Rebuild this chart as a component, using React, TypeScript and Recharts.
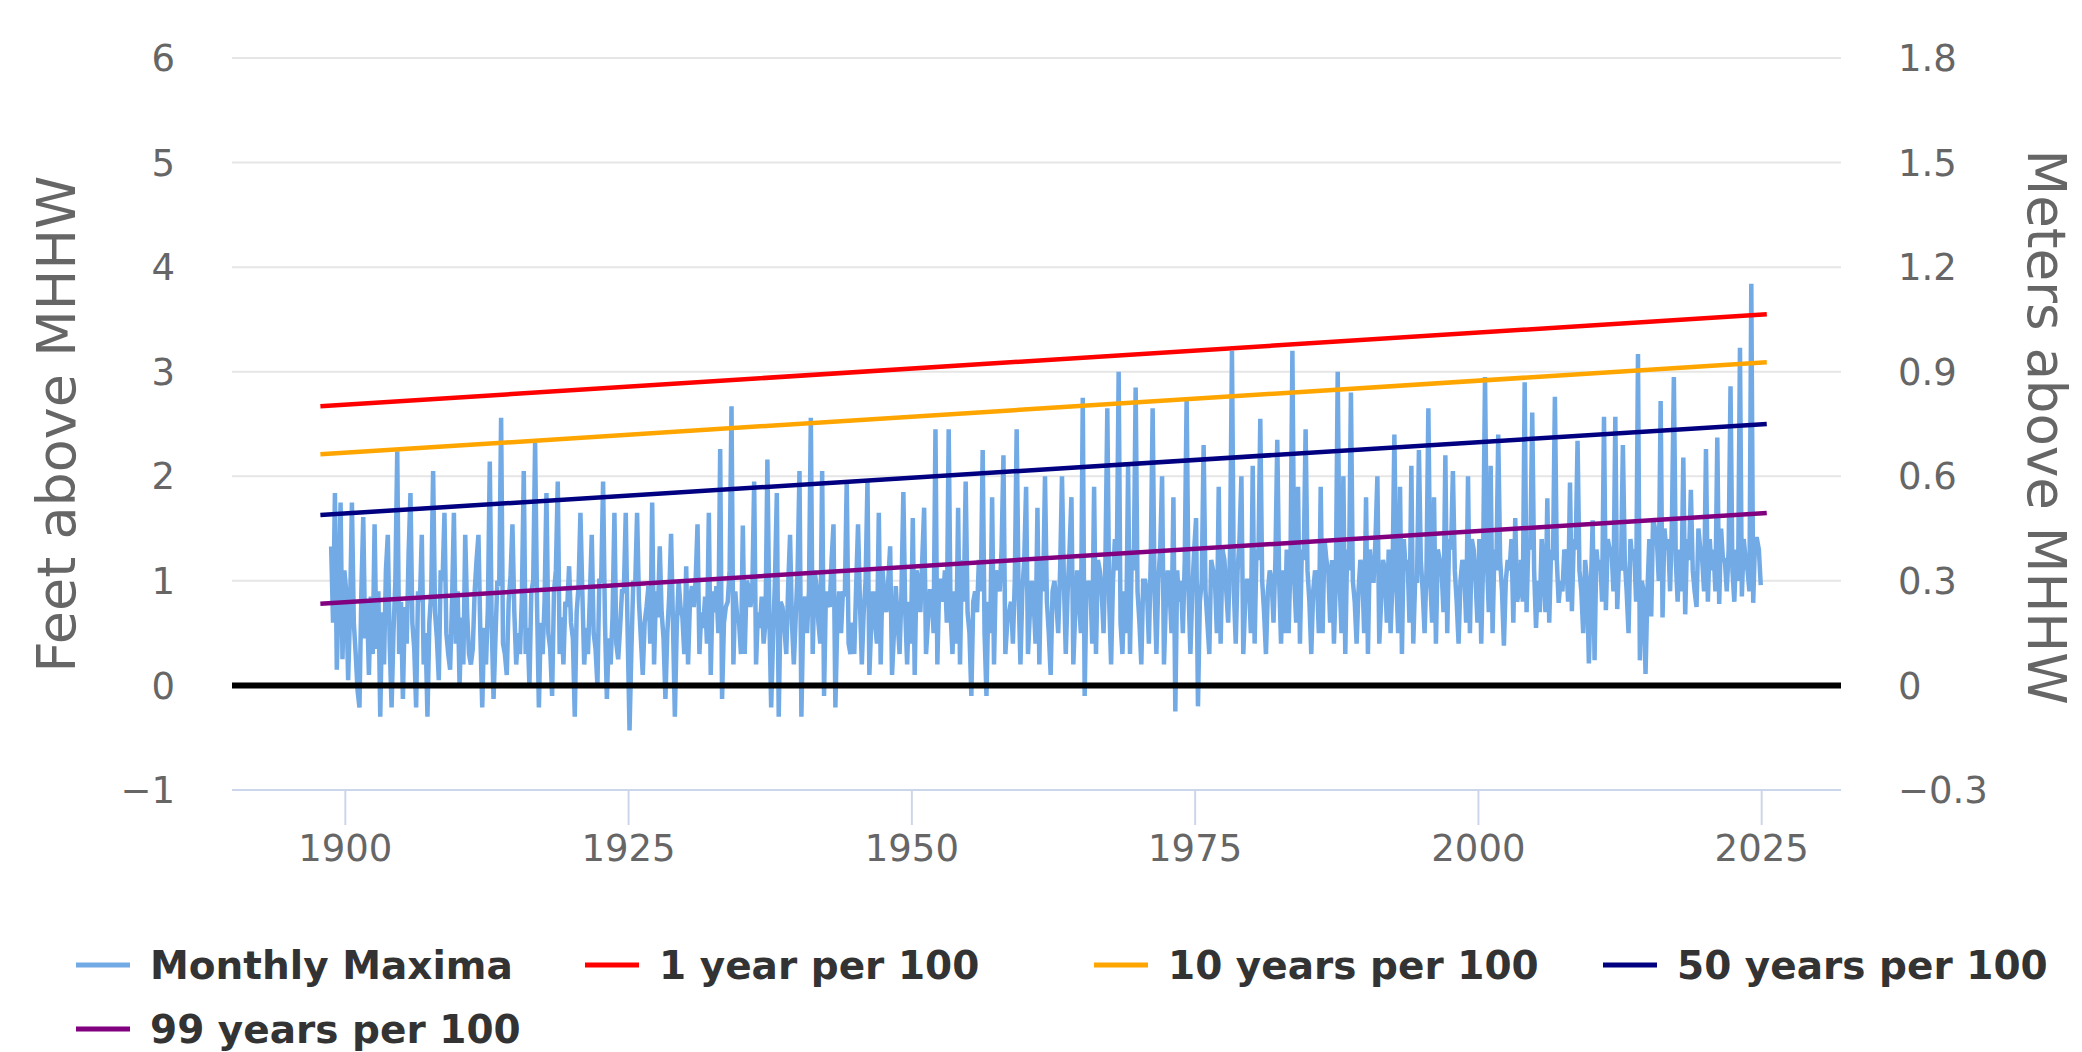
import { LineChart, Line, XAxis, YAxis, CartesianGrid } from 'recharts'

const yearTicks = [1900, 1925, 1950, 1975, 2000, 2025]
const feetTicks = [-1, 0, 1, 2, 3, 4, 5, 6]
const meterTicks = [-0.3, 0, 0.3, 0.6, 0.9, 1.2, 1.5, 1.8]

// Monthly maxima in feet above MHHW: six readings per year
// (one row per year), first reading at 1898.75
const maximaStart = 1898.75
const readingsPerYear = 6
const maxima1899to1924 = [
  [1.33, 0.6, 1.84, 0.15, 0.9, 1.75], [0.25, 1.1, 0.9, 0.05, 0.7, 1.75], [0.6, 0.3, -0.05, -0.21, 0.9, 1.61],
  [0.45, 0.8, 0.1, 0.85, 0.3, 1.54], [0.35, 0.9, -0.3, 0.7, 0.2, 1.1], [1.44, 0.4, -0.21, 0.5, 1.0, 2.24],
  [0.3, 0.8, -0.13, 0.75, 0.4, 1.25], [1.84, 0.6, 0.35, -0.21, 0.9, 0.8], [1.44, 0.2, 0.5, -0.3, 0.6, 0.9],
  [2.05, 0.7, 0.45, 0.05, 1.1, 1.0], [1.65, 0.5, 0.3, 0.15, 0.8, 1.65], [0.4, 0.9, 0.0, 0.65, 0.2, 1.44],
  [0.7, 0.3, 0.2, 0.35, 0.9, 1.2], [1.44, 0.5, -0.21, 0.55, 0.2, 0.75], [2.14, 0.6, -0.13, 0.45, 1.0, 0.95],
  [2.56, 0.4, 0.3, 0.1, 0.8, 1.05], [1.54, 0.7, 0.2, 0.5, 0.3, 0.85], [2.05, 0.3, 0.55, 0.0, 0.9, 1.0],
  [2.32, 0.8, -0.21, 0.6, 0.3, 0.8], [1.84, 0.5, 0.35, -0.1, 0.9, 1.1], [1.95, 0.3, 0.65, 0.2, 0.8, 0.75],
  [1.14, 0.6, 0.45, -0.3, 0.7, 0.95], [1.65, 0.9, 0.2, 0.55, 0.3, 0.85], [1.44, 0.5, 0.35, 0.0, 1.0, 1.0],
  [1.95, 0.6, -0.13, 0.45, 0.2, 0.65], [1.65, 0.4, 0.25, 0.55, 0.9, 0.9],
]
const maxima1925to1949 = [
  [1.65, 0.5, -0.43, 0.35, 1.0, 0.95], [1.65, 0.8, 0.45, 0.1, 0.6, 0.75], [0.95, 0.4, 1.75, 0.2, 0.9, 0.65],
  [1.33, 0.7, 0.45, -0.13, 0.5, 0.85], [1.45, 0.6, -0.3, 0.55, 1.0, 0.75], [0.65, 0.3, 1.14, 0.2, 0.8, 0.95],
  [0.75, 1.0, 1.54, 0.3, 0.7, 0.55], [0.85, 0.4, 1.65, 0.1, 0.9, 0.7], [0.95, 0.5, 2.26, -0.13, 0.6, 0.75],
  [0.8, 1.1, 2.67, 0.2, 0.9, 0.65], [0.6, 0.3, 1.53, 0.3, 1.0, 0.95], [0.75, 0.9, 1.95, 0.2, 0.7, 0.55],
  [0.85, 0.4, 0.6, 2.16, 0.7, -0.21], [0.45, 1.0, 1.84, -0.3, 0.8, 0.75], [0.55, 0.3, 0.95, 1.44, 0.6, 0.2],
  [0.65, 1.1, 2.05, -0.3, 0.7, 0.85], [0.5, 0.9, 2.56, 0.3, 1.1, 0.95], [0.6, 0.4, 2.05, -0.1, 0.9, 0.8],
  [0.75, 1.2, 1.54, -0.21, 0.6, 0.9], [0.5, 0.9, 0.85, 1.95, 0.4, 0.3], [0.6, 0.3, 0.95, 1.54, 0.8, 0.2],
  [0.7, 1.0, 1.95, 0.1, 0.6, 0.9], [0.6, 0.4, 1.65, 0.2, 1.1, 0.85], [0.7, 1.0, 1.33, 0.1, 0.5, 0.95],
  [0.6, 0.3, 0.9, 1.85, 0.7, 0.2],
]
const maxima1950to1974 = [
  [0.8, 0.4, 1.6, 0.1, 1.1, 1.0], [0.7, 1.2, 1.7, 0.3, 0.6, 0.9], [0.9, 0.5, 2.45, 0.2, 1.0, 1.0],
  [0.8, 1.1, 0.6, 2.45, 0.7, 0.3], [0.9, 0.4, 1.7, 0.2, 1.2, 0.8], [1.95, 0.7, 0.5, -0.1, 0.8, 0.9],
  [0.7, 1.2, 0.9, 2.25, 0.5, -0.1], [0.8, 0.5, 1.8, 0.2, 1.1, 1.0], [0.9, 1.3, 2.2, 0.3, 0.6, 0.7],
  [0.8, 0.4, 1.0, 2.45, 0.9, 0.2], [0.9, 1.2, 1.9, 0.3, 0.7, 1.0], [0.8, 0.4, 1.7, 0.2, 1.2, 0.9],
  [2.0, 0.8, 0.5, 0.1, 0.9, 1.0], [0.8, 0.5, 1.1, 2.0, 1.0, 0.3], [0.9, 1.3, 1.8, 0.2, 0.7, 1.1],
  [0.8, 0.5, 2.75, -0.1, 1.0, 0.9], [1.0, 0.4, 1.9, 0.3, 1.2, 1.1], [0.9, 0.5, 1.2, 2.65, 0.8, 0.2],
  [1.0, 1.4, 1.1, 3.0, 0.6, 0.3], [0.9, 0.5, 2.1, 0.3, 1.3, 1.1], [2.85, 0.9, 0.6, 0.2, 1.0, 1.0],
  [0.9, 0.4, 1.2, 2.65, 0.9, 0.3], [1.0, 1.3, 2.0, 0.2, 0.8, 1.1], [0.9, 0.5, 1.8, -0.25, 1.1, 0.8],
  [1.0, 0.5, 1.2, 2.75, 0.9, 0.3],
]
const maxima1975to1999 = [
  [0.9, 1.3, 1.6, -0.2, 0.8, 1.0], [2.3, 0.9, 0.6, 0.3, 1.2, 1.1], [1.0, 0.5, 1.9, 0.4, 1.3, 1.2],
  [0.9, 0.6, 1.3, 3.2, 0.9, 0.4], [1.1, 1.4, 2.0, 0.3, 0.8, 1.0], [1.0, 0.5, 2.1, 0.4, 1.3, 1.2],
  [2.55, 1.0, 0.7, 0.3, 0.9, 1.1], [1.0, 0.6, 1.2, 2.35, 1.0, 0.4], [1.1, 0.5, 1.3, 0.5, 1.2, 3.2],
  [1.0, 0.6, 1.9, 0.4, 1.3, 1.2], [2.45, 1.1, 0.8, 0.3, 0.9, 1.1], [1.0, 0.5, 1.9, 0.5, 1.4, 1.2],
  [1.1, 0.6, 1.2, 0.4, 1.0, 3.0], [1.0, 0.5, 2.0, 0.3, 1.3, 1.1], [2.8, 1.0, 0.8, 0.4, 0.9, 1.2],
  [1.1, 0.5, 1.8, 0.3, 1.3, 1.0], [1.0, 1.4, 2.0, 0.4, 0.8, 1.2], [1.1, 0.6, 1.3, 0.5, 1.0, 2.4],
  [1.0, 0.5, 1.9, 0.3, 1.4, 1.1], [1.2, 0.6, 2.1, 0.4, 1.0, 1.0], [2.25, 1.2, 0.9, 0.5, 1.1, 2.65],
  [1.0, 0.6, 1.8, 0.4, 1.3, 1.2], [1.1, 0.7, 2.2, 0.5, 1.4, 1.3], [2.05, 1.1, 0.8, 0.4, 1.0, 1.2],
  [1.1, 0.6, 2.0, 0.5, 1.4, 1.3],
]
const maxima2000to2025 = [
  [1.0, 0.6, 1.4, 0.4, 1.2, 2.95], [1.2, 0.7, 2.1, 0.5, 1.3, 1.1], [2.4, 1.2, 0.9, 0.38, 1.0, 1.2],
  [1.1, 1.4, 0.6, 1.6, 0.8, 0.9], [1.2, 0.8, 2.9, 0.7, 1.4, 1.3], [2.61, 1.1, 0.55, 1.0, 0.7, 1.4],
  [1.1, 0.7, 1.79, 0.6, 1.3, 1.2], [2.76, 1.2, 0.79, 1.0, 0.9, 1.3], [1.2, 0.8, 1.94, 0.71, 1.4, 1.3],
  [2.34, 1.1, 0.9, 0.5, 1.2, 1.0], [0.21, 0.9, 1.58, 0.24, 1.3, 1.1], [1.2, 0.8, 2.57, 0.72, 1.4, 1.3],
  [1.3, 0.9, 2.57, 0.73, 1.2, 1.1], [2.3, 1.2, 0.9, 0.5, 1.4, 1.2], [1.3, 0.8, 3.17, 0.24, 1.0, 0.9],
  [0.11, 0.9, 1.4, 0.66, 1.6, 1.5], [1.4, 1.0, 2.72, 0.65, 1.5, 1.3], [1.4, 0.9, 1.6, 2.95, 1.2, 0.8],
  [1.3, 0.9, 2.18, 0.68, 1.4, 1.2], [1.87, 1.1, 0.9, 0.75, 1.5, 1.3], [1.2, 0.9, 2.26, 0.8, 1.4, 1.1],
  [1.3, 0.9, 2.37, 0.78, 1.5, 1.2], [1.2, 0.9, 1.3, 2.86, 1.1, 0.8], [1.3, 1.0, 3.23, 0.85, 1.4, 1.2],
  [1.1, 0.9, 3.84, 0.79, 1.4, 1.4], [1.3, 0.96],
]

// exceedance probability levels (straight trend lines), feet above MHHW
const trendYears = [1897.8, 2025.45]
const oneYearPer100 = [2.67, 3.55]
const tenYearsPer100 = [2.21, 3.09]
const fiftyYearsPer100 = [1.63, 2.5]
const ninetyNineYearsPer100 = [0.78, 1.65]

// MHHW datum line, drawn on the meters axis across the full x range
const datumYears = [1890, 2032]
const datumMeters = [0, 0]

const maximaData = [
  ...maxima1899to1924,
  ...maxima1925to1949,
  ...maxima1950to1974,
  ...maxima1975to1999,
  ...maxima2000to2025,
]
  .flat()
  .map((ft, i) => ({ x: maximaStart + i / readingsPerYear, ft }))

const trendData = trendYears.map((x, i) => ({
  x,
  one: oneYearPer100[i],
  ten: tenYearsPer100[i],
  fifty: fiftyYearsPer100[i],
  ninetyNine: ninetyNineYearsPer100[i],
}))

const datumData = datumYears.map((x, i) => ({ x, m: datumMeters[i] }))

const series = [
  { name: 'Monthly Maxima', color: '#72aae6' },
  { name: '1 year per 100', color: '#ff0000' },
  { name: '10 years per 100', color: '#ffa500' },
  { name: '50 years per 100', color: '#000080' },
  { name: '99 years per 100', color: '#800080' },
]

const FONT = '"DejaVu Sans", sans-serif'

function fmt(v: number) {
  return v < 0 ? `\u2212${Math.abs(v)}` : `${v}`
}

const tickStyle = { fontSize: 37, fill: '#666666', fontFamily: FONT }

export default function App() {
  return (
    <div style={{ position: 'absolute', left: 0, top: 0, width: 2082, height: 1052, background: '#fff', fontFamily: FONT, overflow: 'hidden' }}>
      <LineChart width={2082} height={900} margin={{ top: 58, right: 0, bottom: 0, left: 0 }}>
        <CartesianGrid yAxisId="ft" vertical={false} stroke="#e6e6e6" strokeWidth={2} />
        <XAxis
          dataKey="x"
          type="number"
          domain={[1890, 2032]}
          ticks={yearTicks}
          allowDataOverflow
          height={110}
          tickSize={35}
          tickMargin={10}
          stroke="#ccd6eb"
          strokeWidth={2}
          tick={tickStyle}
        />
        <YAxis
          yAxisId="ft"
          domain={[-1, 6]}
          ticks={feetTicks}
          width={232}
          tickSize={0}
          tickMargin={57}
          axisLine={false}
          tickLine={false}
          tickFormatter={fmt}
          tick={tickStyle}
        />
        <YAxis
          yAxisId="m"
          orientation="right"
          domain={[-0.3, 1.8]}
          ticks={meterTicks}
          width={241}
          tickSize={0}
          tickMargin={57}
          axisLine={false}
          tickLine={false}
          tickFormatter={fmt}
          tick={tickStyle}
        />
        <Line yAxisId="ft" data={maximaData} dataKey="ft" type="linear" stroke={series[0].color} strokeWidth={4.5} dot={false} isAnimationActive={false} />
        <Line yAxisId="ft" data={trendData} dataKey="one" type="linear" stroke={series[1].color} strokeWidth={4.5} dot={false} isAnimationActive={false} />
        <Line yAxisId="ft" data={trendData} dataKey="ten" type="linear" stroke={series[2].color} strokeWidth={4.5} dot={false} isAnimationActive={false} />
        <Line yAxisId="ft" data={trendData} dataKey="fifty" type="linear" stroke={series[3].color} strokeWidth={4.5} dot={false} isAnimationActive={false} />
        <Line yAxisId="ft" data={trendData} dataKey="ninetyNine" type="linear" stroke={series[4].color} strokeWidth={4.5} dot={false} isAnimationActive={false} />
        <Line yAxisId="m" data={datumData} dataKey="m" type="linear" stroke="#000" strokeWidth={6} dot={false} isAnimationActive={false} />
      </LineChart>

      <svg width={2082} height={1052} style={{ position: 'absolute', left: 0, top: 0, pointerEvents: 'none' }}>
        <text
          transform="translate(56, 424) rotate(-90)"
          textAnchor="middle"
          dominantBaseline="central"
          fontSize={54}
          fill="#666"
          fontFamily={FONT}
        >
          Feet above MHHW
        </text>
        <text
          transform="translate(2046, 427) rotate(90)"
          textAnchor="middle"
          dominantBaseline="central"
          fontSize={53}
          fill="#666"
          fontFamily={FONT}
        >
          Meters above MHHW
        </text>
      </svg>

      {series.map((s, i) => {
        const row = i < 4 ? 0 : 1
        const col = i < 4 ? i : 0
        return (
          <div
            key={s.name}
            style={{
              position: 'absolute', left: 76 + col * 509, top: 965 + row * 64, transform: 'translateY(-50%)',
              display: 'flex', alignItems: 'center', whiteSpace: 'nowrap',
            }}
          >
            <div style={{ width: 54, height: 5, background: s.color, marginRight: 20 }} />
            <span style={{ fontSize: 39, fontWeight: 'bold', color: '#333', lineHeight: 1 }}>{s.name}</span>
          </div>
        )
      })}
    </div>
  )
}
